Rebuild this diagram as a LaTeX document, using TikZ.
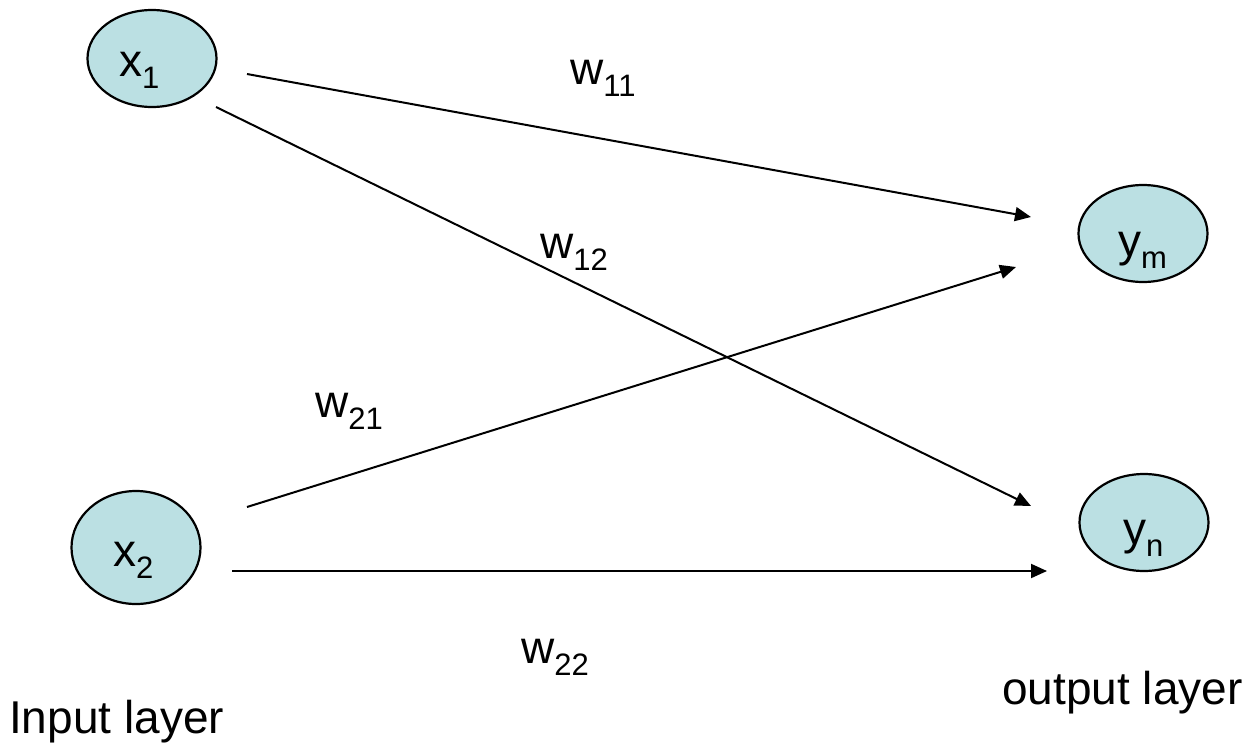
\documentclass[tikz,border=0pt]{standalone}
\usepackage{fontspec}
\setmainfont{Liberation Sans}
\usetikzlibrary{arrows.meta,shapes.geometric}
\definecolor{nfill}{RGB}{187,224,227}
\newcommand\lsub[1]{\raisebox{-12pt}{\fontsize{31}{31}\selectfont #1}}
\begin{document}
\begin{tikzpicture}[x=1pt,y=-1pt,
  neuron/.style={ellipse, draw, line width=2.2pt, fill=nfill, inner sep=0pt, minimum width=129pt},
  lbl/.style={inner sep=0pt, anchor=base west, font=\fontsize{46}{46}\selectfont},
  conn/.style={line width=2pt, -{Triangle[length=16pt,width=14pt]}}]
\useasboundingbox (0,0) rectangle (1256,750);
% neurons
\node[neuron, minimum height=97pt] (x1) at (152,58.5) {};
\node[neuron, minimum height=113pt] (x2) at (136,547.5) {};
\node[neuron, minimum height=97pt] (ym) at (1143,233.5) {};
\node[neuron, minimum height=97pt] (yn) at (1144,522.5) {};
\node[lbl] (x1t) at (119,76) {x\lsub{1}};
\node[lbl] (x2t) at (113,566) {x\lsub{2}};
\node[lbl] (ymt) at (1118,256) {y\lsub{m}};
\node[lbl] (ynt) at (1123,544) {y\lsub{n}};
% connector ends
\coordinate (a1s) at (247,74);  \coordinate (a1e) at (1031,217);
\coordinate (a2s) at (216,107); \coordinate (a2e) at (1031,506);
\coordinate (a3s) at (247,507); \coordinate (a3e) at (1016,267);
\coordinate (a4s) at (232,571); \coordinate (a4e) at (1047,571);
\draw[conn] (a1s) -- (a1e);
\draw[conn] (a2s) -- (a2e);
\draw[conn] (a3s) -- (a3e);
\draw[conn] (a4s) -- (a4e);
% weights
\node[lbl] (w11) at (570,84) {w\lsub{11}};
\node[lbl] (w12) at (540,258) {w\lsub{12}};
\node[lbl] (w21) at (315,417) {w\lsub{21}};
\node[lbl] (w22) at (521,663) {w\lsub{22}};
% layer labels
\node[lbl] (inl) at (9,733) {Input layer};
\node[lbl] (outl) at (1002,704) {output layer};
\end{tikzpicture}
\end{document}
